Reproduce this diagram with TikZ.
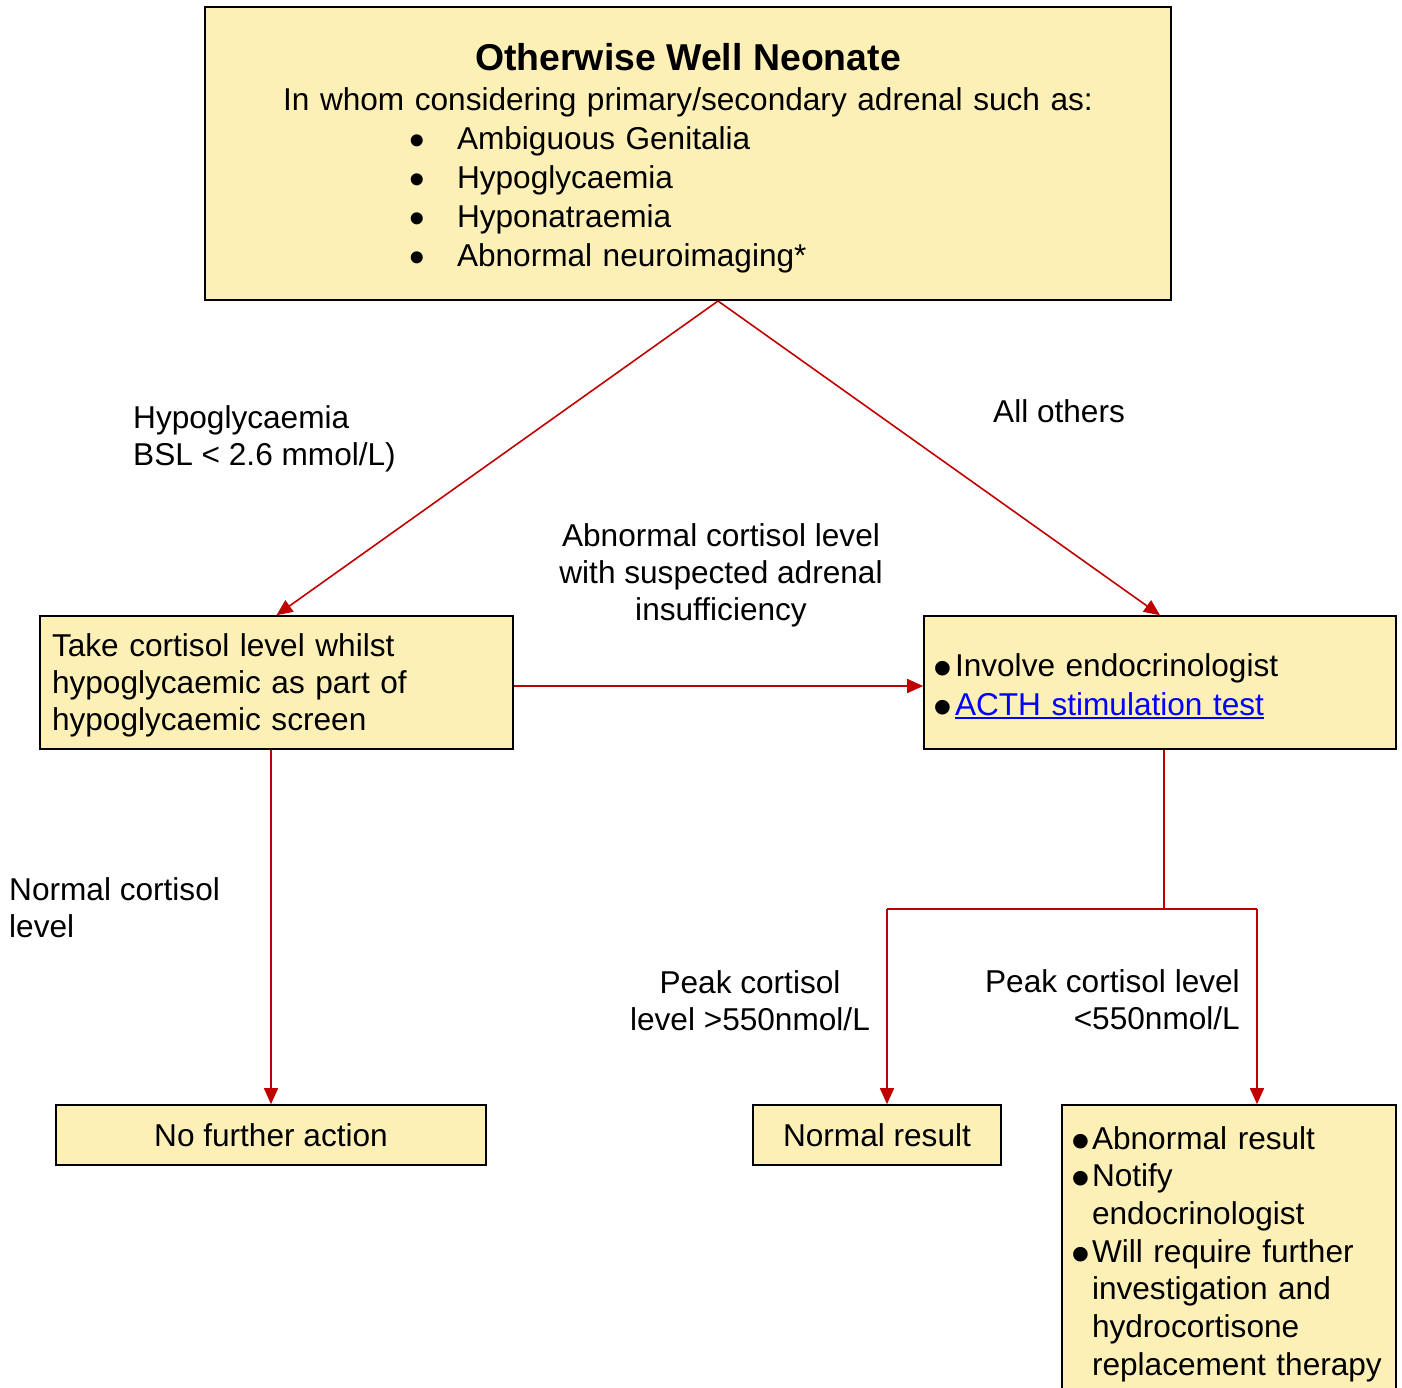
\documentclass[tikz,border=0pt]{standalone}
\usepackage{fontspec}
\setmainfont{Liberation Sans}
\usetikzlibrary{arrows.meta}
\definecolor{boxfill}{RGB}{253,240,183}
\definecolor{linkred}{RGB}{192,0,0}
\definecolor{linkblue}{RGB}{0,0,255}
% small bullet (top box) and large bullet (other boxes)
\newcommand{\sbul}[1]{\makebox[#1][l]{\smash{\raisebox{-5.7pt}{\scalebox{1.4}{\textbullet}}}}}
\newcommand{\lbul}[2]{\makebox[#1][l]{\hspace{#2}\smash{\raisebox{-10pt}{\scalebox{1.7}{\textbullet}}}}}
\newcommand{\ulink}[1]{\setbox0\hbox{#1}\rlap{\rule[-4pt]{\wd0}{2pt}}\box0}
\begin{document}
\begin{tikzpicture}[x=1pt,y=-1pt,
  box/.style={draw=black, line width=1.6pt, fill=boxfill, font=\fontsize{31.6}{37}\selectfont, inner sep=0pt},
  lbl/.style={font=\fontsize{31.6}{37}\selectfont, inner sep=0pt},
  conn/.style={draw=linkred, line width=1.6pt},
  arr/.style={conn, -{Triangle[length=16pt,width=14pt]}}]
\useasboundingbox (0,0) rectangle (1402,1388);
\clip (0,0) rectangle (1402,1388);

% boxes
\node[box, minimum width=966, minimum height=293, text width=942, align=left,
      font=\fontsize{31.6}{39}\selectfont] (top) at (688,153.5)
  {\makebox[\linewidth][c]{\rule{0pt}{37pt}\fontsize{37.4}{40}\selectfont\bfseries Otherwise Well Neonate}\\[1pt]
   \makebox[\linewidth][c]{In whom considering primary/secondary adrenal such as:}\\
   \hspace*{192pt}\sbul{48pt}Ambiguous Genitalia\\
   \hspace*{192pt}\sbul{48pt}Hypoglycaemia\\
   \hspace*{192pt}\sbul{48pt}Hyponatraemia\\
   \hspace*{192pt}\sbul{48pt}Abnormal neuroimaging*};

\node[box, minimum width=473, minimum height=133, text width=449, align=left] (lbox) at (276.5,682.5)
  {\rule{0pt}{29pt}Take cortisol level whilst\\hypoglycaemic as part of\\hypoglycaemic screen};

\node[box, minimum width=472, minimum height=133, text width=450, align=left,
      font=\fontsize{31.6}{39}\selectfont] (rbox) at (1160,682.5)
  {\rule{0pt}{30pt}\lbul{20pt}{-1.5pt}Involve endocrinologist\\
   \lbul{20pt}{-1.5pt}{\color{linkblue}\ulink{ACTH stimulation test}}};

\node[box, minimum width=430, minimum height=60] (nofur) at (271,1135) {No further action};
\node[box, minimum width=248, minimum height=60] (normres) at (877,1135) {Normal result};

\node[box, minimum width=334, minimum height=292, text width=310, align=left,
      font=\fontsize{31.6}{37.7}\selectfont] (abn) at (1229,1251)
  {\mbox{\rule{0pt}{29pt}\lbul{18pt}{-2.5pt}Abnormal result}\\
   \mbox{\lbul{18pt}{-2.5pt}Notify}\\
   \mbox{\hspace*{18pt}endocrinologist}\\
   \mbox{\lbul{18pt}{-2.5pt}Will require further}\\
   \mbox{\hspace*{18pt}investigation and}\\
   \mbox{\hspace*{18pt}hydrocortisone}\\
   \mbox{\hspace*{18pt}replacement therapy}};

% labels
\node[lbl, align=left, anchor=west] (hypo) at (133,438.5) {Hypoglycaemia\\BSL < 2.6 mmol/L)};
\node[lbl, anchor=west] (allothers) at (993,411) {All others};
\node[lbl, align=center] (abncort) at (721,575) {Abnormal cortisol level\\with suspected adrenal\\insufficiency};
\node[lbl, align=left, anchor=west] (normcort) at (9,907.5) {Normal cortisol\\level};
\node[lbl, align=center] (peakhi) at (750,1001) {Peak cortisol\\level >550nmol/L};
\node[lbl, align=right, anchor=east] (peaklo) at (1240,999.5) {Peak cortisol level\\<550nmol/L};

% connectors
\coordinate (apex) at (718,301);
\coordinate (split) at (1164,909);
\coordinate (sl) at (887,909);
\coordinate (sr) at (1257,909);
\draw[arr] (apex) -- (lbox.north);
\draw[arr] (apex) -- (rbox.north);
\draw[arr] ([yshift=-3.5pt]lbox.east) -- ([yshift=-3.5pt]rbox.west);
\draw[arr] (nofur.north |- lbox.south) -- (nofur.north);
\draw[conn] (split |- rbox.south) -- (split);
\draw[conn] (sl) -- (sr);
\draw[arr] (sl) -- (sl |- normres.north);
\draw[arr] (sr) -- (sr |- abn.north);
\end{tikzpicture}
\end{document}
